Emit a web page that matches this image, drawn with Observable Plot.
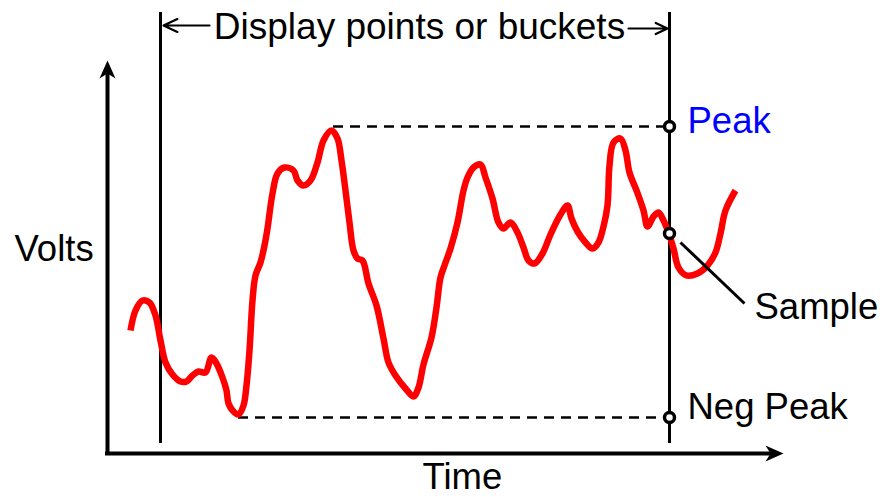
<!DOCTYPE html>
<html>
<head>
<meta charset="utf-8">
<script src="https://cdn.jsdelivr.net/npm/d3@7"></script>
<script src="https://cdn.jsdelivr.net/npm/@observablehq/plot@0.6"></script>
<style>
  html, body { margin: 0; padding: 0; background: #fff; }
</style>
</head>
<body>
<div id="chart"></div>
<script>
// ---- Signal trace (time, volts) ----
const time = [130,135,142,149,155,160,165,172,180,186,
  192,198,205,211,216,222,226,228,233,238,
  243,246,249,252,255,260,264,267,272,277,
  284,293,297,303,310,317,323,331,337,341,
  345,349,353,357,362,368,376,383,388,395,
  405,413,418,423,431,436,440,444,450,457,
  463,467,473,480,485,492,498,503,510,517,
  523,528,534,542,550,560,567,571,577,585,
  592,598,603,607,609,613,620,625,629,636,
  643,647,653,658,663,668,673,678,686,697,
  707,715,720,725,735];
const volts = [167,187,197,195,182,157,135,123,116,116,
  122,126,125,140,134,120,107,94,86,83,
  92,112,147,197,222,235,252,269,304,324,
  330,327,317,312,317,335,357,367,359,337,
  307,275,247,239,237,214,192,159,135,122,
  109,101,110,133,160,190,220,232,249,275,
  307,320,330,333,320,299,275,269,275,265,
  250,237,234,244,263,283,292,279,266,255,
  249,255,271,292,332,355,359,347,325,307,
  287,271,281,285,277,265,249,230,222,224,
  232,245,264,287,307];

// ---- Bucket and levels ----
const bucketStart = 160;
const bucketEnd = 669;
const peakLevel = 371;
const negPeakLevel = 80;
const sampleLevel = 264;
const peakFrom = 333;
const negPeakFrom = 238;

// ---- Labels ----
const labels = {
  bucket: "Display points or buckets",
  peak: "Peak",
  negPeak: "Neg Peak",
  sample: "Sample",
  yTitle: "Volts",
  xTitle: "Time"
};

const trace = time.map((t, i) => ({t, v: volts[i]}));

// barbed arrowhead symbol, tip at origin, pointing up
const arrowHead = {
  draw(ctx) {
    ctx.moveTo(0, 0);
    ctx.lineTo(8, 18);
    ctx.lineTo(0, 13);
    ctx.lineTo(-8, 18);
    ctx.closePath();
  }
};

const font = "'Liberation Sans', Arial, Helvetica, sans-serif";

const chart = Plot.plot({
  width: 882,
  height: 497,
  margin: 0,
  x: {domain: [0, 882], range: [0, 882], axis: null},
  y: {domain: [0, 497], range: [497, 0], axis: null},
  style: {fontFamily: font, background: "white", color: "black"},
  marks: [
    // axes
    Plot.ruleX([107], {y1: 42, y2: 425, stroke: "black", strokeWidth: 4}),
    Plot.ruleY([44], {x1: 105, x2: 772, stroke: "black", strokeWidth: 4}),
    Plot.dot([{x: 107, y: 437}], {x: "x", y: "y", symbol: arrowHead, fill: "black", stroke: "none"}),
    Plot.dot([{x: 783, y: 44}], {x: "x", y: "y", symbol: arrowHead, rotate: 90, fill: "black", stroke: "none"}),
    // bucket boundaries
    Plot.ruleX([bucketStart, bucketEnd], {y1: 54, y2: 485, stroke: "black", strokeWidth: 3}),
    // peak levels
    Plot.ruleY([{v: peakLevel, x1: peakFrom, x2: bucketEnd}, {v: negPeakLevel, x1: negPeakFrom, x2: bucketEnd}],
      {y: "v", x1: "x1", x2: "x2", stroke: "black", strokeWidth: 2.5, strokeDasharray: "10,7"}),
    // top bucket arrows
    Plot.arrow([{x1: 209, y1: 472, x2: bucketStart + 3, y2: 472}, {x1: 628, y1: 469, x2: bucketEnd - 2, y2: 469}],
      {x1: "x1", y1: "y1", x2: "x2", y2: "y2", stroke: "black", strokeWidth: 2.2, headLength: 16, headAngle: 50}),
    // signal
    Plot.line(trace, {x: "t", y: "v", stroke: "#ff0000", strokeWidth: 6.5, curve: "catmull-rom", strokeLinecap: "butt", strokeLinejoin: "round"}),
    // sample leader
    Plot.link([{x1: 680, y1: 255, x2: 744, y2: 194}], {x1: "x1", y1: "y1", x2: "x2", y2: "y2", stroke: "black", strokeWidth: 3}),
    // markers
    Plot.dot([peakLevel, sampleLevel, negPeakLevel], {x: bucketEnd, y: d => d, r: 5, fill: "white", stroke: "black", strokeWidth: 3.5}),
    // texts
    Plot.text([labels.bucket], {x: 419, y: 459, text: d => d, fontSize: 37, textAnchor: "middle", lineAnchor: "bottom", fill: "black"}),
    Plot.text([labels.peak], {x: 687, y: 365, text: d => d, fontSize: 36.5, textAnchor: "start", lineAnchor: "bottom", fill: "#0000ff"}),
    Plot.text([labels.negPeak], {x: 687, y: 79, text: d => d, fontSize: 36.5, textAnchor: "start", lineAnchor: "bottom", fill: "black"}),
    Plot.text([labels.sample], {x: 754, y: 179, text: d => d, fontSize: 36.5, textAnchor: "start", lineAnchor: "bottom", fill: "black"}),
    Plot.text([labels.yTitle], {x: 14, y: 237, text: d => d, fontSize: 36.5, textAnchor: "start", lineAnchor: "bottom", fill: "black"}),
    Plot.text([labels.xTitle], {x: 422, y: 9, text: d => d, fontSize: 36.5, textAnchor: "start", lineAnchor: "bottom", fill: "black"})
  ]
});
document.getElementById("chart").appendChild(chart);
</script>
</body>
</html>
